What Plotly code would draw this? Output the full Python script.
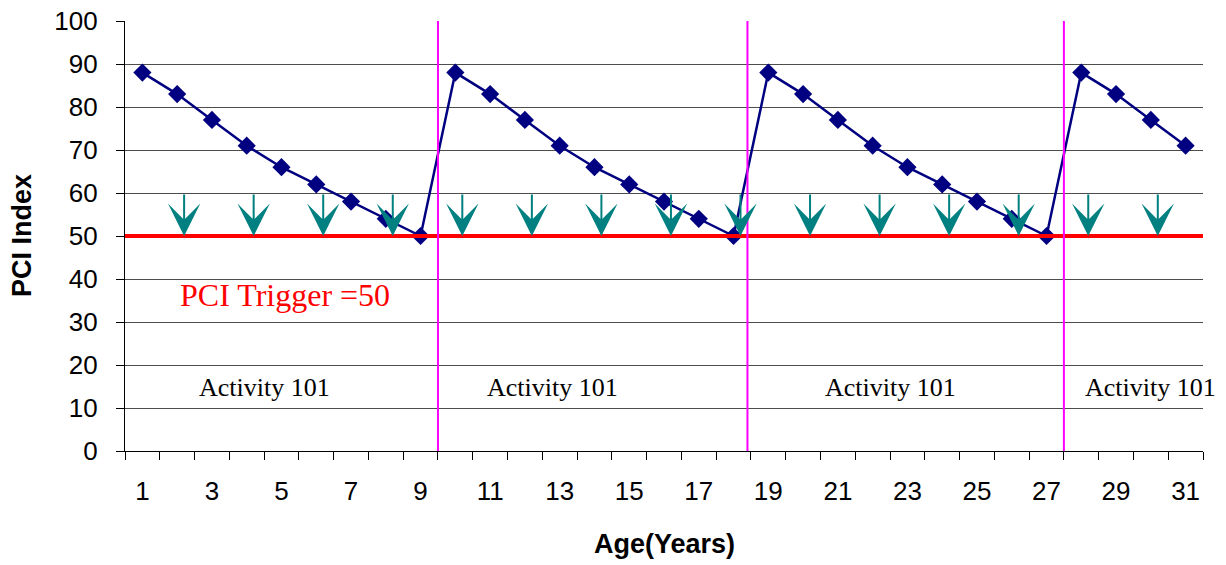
import plotly.graph_objects as go

# Pavement age (years) and the PCI value for each year
ages = [1, 2, 3, 4, 5, 6, 7, 8, 9, 10, 11, 12, 13, 14, 15, 16,
        17, 18, 19, 20, 21, 22, 23, 24, 25, 26, 27, 28, 29, 30, 31]
pci_index = [88, 83, 77, 71, 66, 62, 58, 54, 50,
             88, 83, 77, 71, 66, 62, 58, 54, 50,
             88, 83, 77, 71, 66, 62, 58, 54, 50,
             88, 83, 77, 71]

# Labelled ages on the x axis and the boundaries between years
tick_years = [1, 3, 5, 7, 9, 11, 13, 15, 17, 19, 21, 23, 25, 27, 29, 31]
year_boundaries = [0.5, 1.5, 2.5, 3.5, 4.5, 5.5, 6.5, 7.5, 8.5, 9.5, 10.5,
                   11.5, 12.5, 13.5, 14.5, 15.5, 16.5, 17.5, 18.5, 19.5,
                   20.5, 21.5, 22.5, 23.5, 24.5, 25.5, 26.5, 27.5, 28.5,
                   29.5, 30.5, 31.5]

# Rehabilitation events (Activity 101) and trigger threshold
treatment_years = [9.5, 18.4, 27.5]
pci_trigger = 50
inspection_years = [2.2, 4.2, 6.2, 8.2, 10.2, 12.2, 14.2, 16.2, 18.2,
                    20.2, 22.2, 24.2, 26.2, 28.2, 30.2]
inspection_from = 60
activity_label_x = [4.5, 12.8, 22.5, 30.0]
activity_label_y = 14.8
trigger_label_x = 5.1
trigger_label_y = 36.2

NAVY = "#000080"
TEAL = "#008080"
MAGENTA = "#FF00FF"
SANS = "Liberation Sans, Arial, sans-serif"
SERIF = "Liberation Serif, Times New Roman, serif"

fig = go.Figure()

fig.add_trace(go.Scatter(
    x=ages, y=pci_index, mode="lines+markers",
    line=dict(color=NAVY, width=2.5),
    marker=dict(symbol="diamond", size=14, color=NAVY),
    cliponaxis=False, showlegend=False, hoverinfo="x+y",
))

shapes = []
# PCI trigger line
shapes.append(dict(type="line", xref="x", yref="y",
                   x0=year_boundaries[0], x1=year_boundaries[-1],
                   y0=pci_trigger, y1=pci_trigger,
                   line=dict(color="#FF0000", width=4), layer="above"))
# Treatment markers
for tx in treatment_years:
    shapes.append(dict(type="line", xref="x", yref="y",
                       x0=tx, x1=tx, y0=-0.5, y1=100,
                       line=dict(color=MAGENTA, width=2), layer="above"))

annotations = []
for ix in inspection_years:
    annotations.append(dict(
        x=ix, y=pci_trigger, ax=ix, ay=inspection_from,
        xref="x", yref="y", axref="x", ayref="y",
        text="", showarrow=True, arrowhead=3, arrowsize=2.7,
        arrowwidth=2, arrowcolor=TEAL,
    ))

for lx in activity_label_x:
    annotations.append(dict(
        x=lx, y=activity_label_y, xref="x", yref="y",
        text="Activity 101", showarrow=False,
        font=dict(family=SERIF, size=26, color="black"),
    ))

annotations.append(dict(
    x=trigger_label_x, y=trigger_label_y, xref="x", yref="y",
    text="PCI Trigger =50", showarrow=False,
    font=dict(family=SERIF, size=32, color="#FF0000"),
))

# Axis titles
annotations.append(dict(
    x=0.5, y=0, xref="paper", yref="paper", yshift=-93,
    xanchor="center", yanchor="middle", showarrow=False,
    text="<b>Age(Years)</b>", font=dict(family=SANS, size=27, color="black"),
))
annotations.append(dict(
    x=0, y=0.5, xref="paper", yref="paper", xshift=-103,
    xanchor="center", yanchor="middle", showarrow=False, textangle=-90,
    text="<b>PCI Index</b>", font=dict(family=SANS, size=27, color="black"),
))

fig.update_layout(
    width=1226, height=565, autosize=False,
    margin=dict(l=125, r=23, t=21, b=114),
    paper_bgcolor="white", plot_bgcolor="white",
    shapes=shapes, annotations=annotations,
    showlegend=False,
)

fig.update_xaxes(
    automargin=False,
    range=[year_boundaries[0], year_boundaries[-1]],
    tickmode="array", tickvals=tick_years, ticktext=[str(t) for t in tick_years],
    ticks="", ticklabelstandoff=17,
    tickfont=dict(family=SANS, size=26, color="black"),
    showgrid=False, zeroline=False,
    showline=True, linecolor="black", linewidth=1.2,
    minor=dict(tickmode="array", tickvals=year_boundaries, ticks="outside",
               ticklen=8, tickcolor="black", tickwidth=1.2, showgrid=False),
)

fig.update_yaxes(
    automargin=False,
    range=[0, 100], tickmode="linear", tick0=0, dtick=10,
    ticks="outside", ticklen=8, tickcolor="black", tickwidth=1.2,
    ticklabelstandoff=13,
    tickfont=dict(family=SANS, size=26, color="black"),
    showgrid=True, gridcolor="#4d4d4d", gridwidth=1,
    zeroline=False, showline=True, linecolor="black", linewidth=1.2,
)

fig.write_html("out.html")
